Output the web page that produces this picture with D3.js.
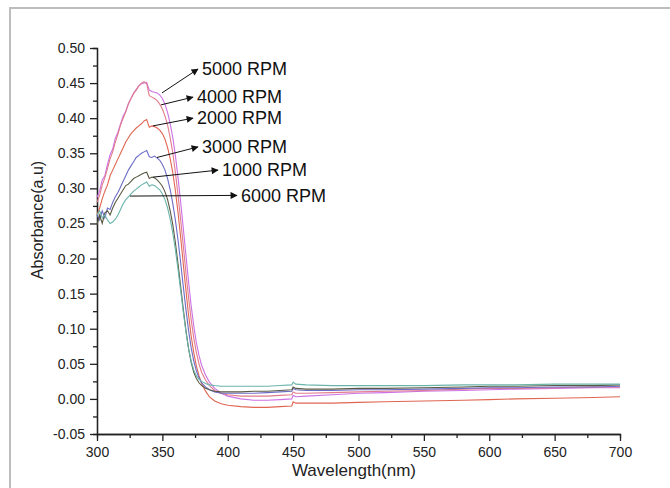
<!DOCTYPE html>
<html>
<head>
<meta charset="utf-8">
<script src="https://cdn.jsdelivr.net/npm/d3@7"></script>
<style>
  body { margin: 0; background: #fff; }
  svg { font-family: "Liberation Sans", Arial, sans-serif; }
</style>
</head>
<body>
<svg id="svg1" width="670" height="488"></svg>
<script>
// UV-vis spectra at different spin speeds

let wl = [300,302,304,306,308,310,312,314,316,318,
  320,322,324,326,328,330,332,334,336,338,
  340,342,344,346,348,350,352,354,356,358,
  360,362,364,366,368,370,372,374,376,378,
  380,383,386,390,395,400,410,420,430,440,
  449,450,452,460,480,500,520,550,580,600,
  620,650,680,700]

let rpm5000 = [0.287,0.296,0.312,0.318,0.334,0.348,0.356,0.371,0.380,0.392,
  0.403,0.410,0.421,0.428,0.436,0.441,0.446,0.449,0.450,0.451,
  0.440,0.438,0.437,0.436,0.433,0.428,0.420,0.408,0.392,0.372,
  0.346,0.315,0.280,0.243,0.205,0.168,0.133,0.104,0.080,0.062,
  0.048,0.034,0.024,0.015,0.008,0.004,0.000,-0.002,-0.002,-0.001,
  0.000,0.005,0.003,0.004,0.006,0.008,0.009,0.011,0.012,0.013,
  0.014,0.015,0.016,0.016]

let rpm4000 = [0.280,0.290,0.305,0.315,0.328,0.342,0.352,0.366,0.377,0.390,
  0.400,0.409,0.420,0.428,0.435,0.440,0.446,0.450,0.452,0.449,
  0.432,0.430,0.428,0.425,0.420,0.413,0.403,0.390,0.372,0.350,
  0.322,0.290,0.255,0.218,0.180,0.145,0.113,0.087,0.066,0.050,
  0.038,0.027,0.019,0.012,0.008,0.006,0.004,0.004,0.004,0.005,
  0.006,0.010,0.008,0.008,0.009,0.010,0.011,0.012,0.014,0.015,
  0.015,0.016,0.017,0.017]

let rpm2000 = [0.262,0.272,0.285,0.296,0.305,0.318,0.326,0.334,0.342,0.350,
  0.358,0.366,0.372,0.378,0.382,0.386,0.389,0.392,0.396,0.398,
  0.387,0.389,0.388,0.386,0.383,0.378,0.370,0.358,0.342,0.322,
  0.296,0.265,0.230,0.192,0.155,0.120,0.090,0.066,0.047,0.033,
  0.022,0.011,0.003,-0.003,-0.007,-0.009,-0.011,-0.012,-0.012,-0.011,
  -0.010,-0.004,-0.006,-0.006,-0.006,-0.005,-0.004,-0.003,-0.002,-0.001,
  0.000,0.001,0.002,0.003]

let rpm3000 = [0.262,0.255,0.268,0.258,0.272,0.270,0.280,0.288,0.294,0.302,
  0.310,0.318,0.326,0.332,0.338,0.344,0.347,0.350,0.352,0.354,
  0.345,0.344,0.346,0.343,0.340,0.334,0.326,0.314,0.298,0.278,
  0.254,0.226,0.194,0.160,0.128,0.098,0.073,0.054,0.040,0.030,
  0.023,0.017,0.013,0.010,0.008,0.008,0.008,0.008,0.009,0.010,
  0.011,0.015,0.013,0.012,0.012,0.013,0.013,0.014,0.015,0.016,
  0.016,0.017,0.017,0.018]

let rpm1000 = [0.248,0.262,0.250,0.265,0.268,0.262,0.272,0.280,0.286,0.292,
  0.298,0.304,0.306,0.310,0.314,0.316,0.318,0.320,0.322,0.323,
  0.314,0.316,0.315,0.312,0.308,0.303,0.295,0.284,0.268,0.248,
  0.222,0.192,0.160,0.128,0.098,0.072,0.052,0.038,0.029,0.023,
  0.019,0.015,0.013,0.011,0.010,0.010,0.010,0.011,0.011,0.012,
  0.013,0.017,0.015,0.014,0.014,0.015,0.015,0.016,0.017,0.018,
  0.018,0.019,0.019,0.020]

let rpm6000 = [0.262,0.268,0.258,0.262,0.255,0.250,0.252,0.256,0.262,0.270,
  0.278,0.284,0.288,0.292,0.296,0.299,0.302,0.305,0.307,0.309,
  0.303,0.305,0.304,0.301,0.298,0.292,0.284,0.272,0.256,0.236,
  0.212,0.184,0.154,0.124,0.096,0.072,0.054,0.041,0.033,0.028,
  0.025,0.022,0.020,0.019,0.018,0.018,0.018,0.018,0.018,0.019,
  0.020,0.024,0.021,0.020,0.019,0.019,0.019,0.019,0.020,0.020,
  0.020,0.021,0.021,0.021]

let seriesNames = ['5000 RPM', '4000 RPM', '2000 RPM', '3000 RPM', '1000 RPM', '6000 RPM']
let seriesValues = [rpm5000, rpm4000, rpm2000, rpm3000, rpm1000, rpm6000]
let seriesColors = ['#cc72e6', '#e27c8c', '#e06652', '#6c6cc8', '#5a5a44', '#6ab4aa']

// arrow from a point on the curve to the label
let arrowFrom = [[349.7, 0.436], [349, 0.419], [342.8, 0.389], [345.9, 0.344], [342.8, 0.316], [325.2, 0.289]]
let arrowTo = [[377.2, 0.470], [373.4, 0.430], [373.4, 0.400], [377.2, 0.359], [392.5, 0.326], [407, 0.290]]

let xTicks = [300, 350, 400, 450, 500, 550, 600, 650, 700]
let yTicks = [-0.05, 0, 0.05, 0.10, 0.15, 0.20, 0.25, 0.30, 0.35, 0.40, 0.45, 0.50]

let x = d3.scaleLinear().domain([300, 700]).range([97, 620])
let y = d3.scaleLinear().domain([-0.05, 0.50]).range([434, 48])

let svg = d3.select('#svg1')

// outer frame
svg.append('rect')
  .attr('x', 10)
  .attr('y', 8)
  .attr('width', 680)
  .attr('height', 500)
  .style('fill', '#fff')
  .style('stroke', '#bdbdbd')
  .style('stroke-width', 2)

// minor ticks
svg.append('g')
  .attr('transform', 'translate(0,434)')
  .call(d3.axisBottom(x).tickValues(d3.range(325, 700, 50)).tickSize(4).tickFormat(''))
svg.append('g')
  .attr('transform', 'translate(97,0)')
  .call(d3.axisLeft(y).tickValues(d3.range(-0.025, 0.5, 0.05)).tickSize(4).tickFormat(''))

let xAxis = svg.append('g')
  .attr('transform', 'translate(0,434)')
  .call(d3.axisBottom(x).tickValues(xTicks).tickSize(7).tickSizeOuter(0).tickPadding(6))

let yAxis = svg.append('g')
  .attr('transform', 'translate(97,0)')
  .call(d3.axisLeft(y).tickValues(yTicks).tickSize(7).tickSizeOuter(0).tickPadding(5)
    .tickFormat(d => Math.abs(d) < 1e-9 ? '0.00' : d.toFixed(2)))

svg.selectAll('.domain, .tick line')
  .style('stroke', '#222')
  .style('stroke-width', 1.3)

xAxis.selectAll('text').style('font-size', '14px').style('fill', '#222')
yAxis.selectAll('text').style('font-size', '14px').style('fill', '#222')

let line = d3.line()
  .x((d, i) => x(wl[i]))
  .y(d => y(d))

svg.append('g')
  .attr('id', 'curves')
  .selectAll('path')
  .data(seriesValues)
  .join('path')
  .attr('d', line)
  .style('stroke', (d, i) => seriesColors[i])
  .style('stroke-width', 1.1)
  .style('fill', 'none')

// axis titles
svg.append('text')
  .attr('x', 354)
  .attr('y', 476)
  .attr('text-anchor', 'middle')
  .style('font-size', '17px')
  .style('fill', '#222')
  .text('Wavelength(nm)')

svg.append('text')
  .attr('transform', 'translate(43,220) rotate(-90)')
  .attr('text-anchor', 'middle')
  .style('font-size', '16px')
  .style('fill', '#222')
  .text('Absorbance(a.u)')

// annotations
svg.append('defs')
  .append('marker')
  .attr('id', 'arrow')
  .attr('viewBox', '0 0 10 10')
  .attr('refX', 9)
  .attr('refY', 5)
  .attr('markerWidth', 11)
  .attr('markerHeight', 7)
  .attr('markerUnits', 'userSpaceOnUse')
  .attr('orient', 'auto')
  .append('path')
  .attr('d', 'M0,0 L10,5 L0,10 Z')
  .style('fill', '#111')

svg.append('g')
  .attr('id', 'arrows')
  .selectAll('line')
  .data(d3.zip(arrowFrom, arrowTo))
  .join('line')
  .attr('x1', d => x(d[0][0]))
  .attr('y1', d => y(d[0][1]))
  .attr('x2', d => x(d[1][0]))
  .attr('y2', d => y(d[1][1]))
  .style('stroke', '#111')
  .style('stroke-width', 1)
  .attr('marker-end', 'url(#arrow)')

svg.append('g')
  .attr('id', 'labels')
  .selectAll('text')
  .data(seriesNames)
  .join('text')
  .attr('x', (d, i) => x(arrowTo[i][0]) + 4)
  .attr('y', (d, i) => y(arrowTo[i][1]))
  .attr('dy', '0.35em')
  .style('font-size', '18px')
  .style('fill', '#111')
  .text(d => d)
</script>
</body>
</html>
